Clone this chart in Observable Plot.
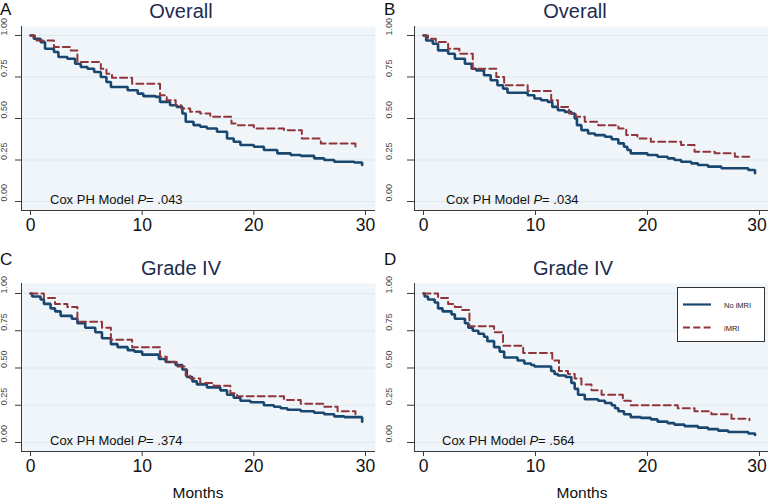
<!DOCTYPE html>
<html>
<head>
<meta charset="utf-8">
<script src="https://cdn.jsdelivr.net/npm/d3@7"></script>
<script src="https://cdn.jsdelivr.net/npm/@observablehq/plot@0.6"></script>
<style>
  html, body { margin: 0; padding: 0; background: #fff; }
  #wrap { position: relative; width: 768px; height: 500px; overflow: hidden; font-family: "Liberation Sans", Arial, Helvetica, sans-serif; }
  .panel { position: absolute; }
  #overlay { position: absolute; left: 0; top: 0; pointer-events: none; }
</style>
</head>
<body>
<div id="wrap"></div>
<script>
// ---------- chart text ----------
const panelLetters = ["A", "B", "C", "D"];
const panelTitles = ["Overall", "Overall", "Grade IV", "Grade IV"];
const coxP = [".043", ".034", ".374", ".564"];
const seriesNames = ["No iMRI", "iMRI"];
const xLabel = "Months";
const xTicks = [0, 10, 20, 30];
const yTicks = [0, 0.25, 0.5, 0.75, 1];

// ---------- Panel A: Overall ----------
const aNoT = [0, 0.3, 0.9, 1.3, 2.1, 2.5, 3.3, 4.0, 4.5, 5.1, 5.7, 6.3, 6.8, 7.2, 8.7, 9.6, 10.1, 11.2, 11.6, 12.5, 13.1, 13.6, 13.9, 14.6, 15.2, 15.8, 16.7, 17.6, 18.2, 18.8, 20.0, 20.9, 22.1, 23.3, 24.2, 25.4, 26.3, 27.2, 29.0, 29.7];
const aNoS = [1.0, 0.98, 0.96, 0.92, 0.90, 0.87, 0.86, 0.83, 0.81, 0.80, 0.78, 0.75, 0.72, 0.69, 0.67, 0.65, 0.635, 0.63, 0.60, 0.58, 0.57, 0.53, 0.48, 0.46, 0.45, 0.44, 0.42, 0.38, 0.36, 0.34, 0.33, 0.31, 0.29, 0.28, 0.275, 0.26, 0.25, 0.24, 0.235, 0.22];
const aYesT = [0, 0.4, 2.1, 3.6, 4.2, 6.3, 6.8, 7.3, 9.1, 11.6, 12.2, 13.0, 13.5, 14.3, 15.2, 16.1, 18.0, 18.5, 20.0, 22.7, 24.3, 26.0, 29.1];
const aYesS = [1.0, 0.97, 0.93, 0.91, 0.84, 0.80, 0.77, 0.745, 0.71, 0.64, 0.61, 0.58, 0.56, 0.54, 0.53, 0.51, 0.47, 0.46, 0.44, 0.43, 0.38, 0.35, 0.33];

// ---------- Panel B: Overall ----------
const bNoT = [0, 0.24, 0.83, 1.3, 2.2, 2.8, 3.7, 4.3, 4.7, 5.4, 6.0, 6.6, 7.1, 7.5, 9.3, 9.9, 10.5, 11.1, 11.5, 12.0, 12.6, 13.2, 13.5, 13.7, 14.1, 14.7, 15.3, 16.2, 16.8, 17.4, 17.9, 18.2, 18.5, 20.0, 20.9, 21.8, 22.4, 23.0, 23.9, 24.5, 25.4, 26.6, 29.0, 29.6];
const bNoS = [1.0, 0.97, 0.95, 0.91, 0.89, 0.86, 0.83, 0.80, 0.79, 0.76, 0.73, 0.70, 0.68, 0.655, 0.64, 0.62, 0.61, 0.60, 0.57, 0.55, 0.54, 0.53, 0.50, 0.46, 0.43, 0.41, 0.40, 0.39, 0.375, 0.35, 0.33, 0.31, 0.29, 0.28, 0.27, 0.26, 0.25, 0.24, 0.23, 0.22, 0.21, 0.20, 0.19, 0.17];
const bYesT = [0, 0.4, 1.1, 2.2, 3.2, 4.4, 6.5, 7.2, 9.3, 11.4, 12.0, 13.0, 13.6, 14.4, 15.6, 17.4, 18.1, 19.1, 20.3, 23.0, 24.2, 26.0, 27.8, 29.1];
const bYesS = [1.0, 0.98, 0.96, 0.92, 0.89, 0.80, 0.75, 0.70, 0.665, 0.61, 0.57, 0.53, 0.51, 0.48, 0.46, 0.44, 0.40, 0.38, 0.36, 0.34, 0.30, 0.29, 0.27, 0.25];

// ---------- Panel C: Grade IV ----------
const cNoT = [0, 0.15, 0.9, 1.2, 1.8, 2.2, 2.7, 3.7, 4.2, 4.9, 5.8, 6.4, 7.2, 7.8, 8.7, 9.3, 10.0, 11.5, 12.1, 13.0, 13.6, 14.0, 14.5, 14.9, 15.8, 17.0, 17.6, 18.2, 18.8, 19.7, 20.9, 21.8, 22.4, 23.0, 24.2, 25.4, 26.3, 27.2, 28.1, 29.7];
const cNoS = [1.0, 0.98, 0.96, 0.93, 0.90, 0.88, 0.85, 0.83, 0.80, 0.77, 0.74, 0.70, 0.66, 0.64, 0.62, 0.61, 0.59, 0.56, 0.54, 0.52, 0.49, 0.44, 0.41, 0.39, 0.37, 0.35, 0.32, 0.30, 0.28, 0.27, 0.25, 0.24, 0.23, 0.22, 0.21, 0.20, 0.19, 0.175, 0.17, 0.14];
const cYesT = [0, 1.2, 2.2, 3.3, 4.2, 6.4, 7.2, 9.1, 11.6, 12.2, 13.1, 13.9, 14.3, 15.2, 16.4, 17.9, 18.5, 22.7, 24.2, 26.3, 27.5, 29.1];
const cYesS = [1.0, 0.97, 0.93, 0.91, 0.81, 0.77, 0.69, 0.64, 0.575, 0.54, 0.51, 0.45, 0.43, 0.40, 0.38, 0.33, 0.31, 0.285, 0.26, 0.24, 0.21, 0.19];

// ---------- Panel D: Grade IV ----------
const dNoT = [0, 0.1, 0.4, 1.0, 1.3, 1.7, 2.5, 2.8, 3.7, 4.0, 4.4, 4.9, 5.4, 5.7, 6.3, 6.8, 7.2, 8.4, 9.0, 9.6, 9.9, 11.4, 11.7, 12.0, 12.7, 13.2, 13.5, 13.8, 14.4, 15.6, 16.2, 16.8, 17.1, 17.4, 17.9, 18.5, 19.4, 20.3, 20.9, 21.8, 22.4, 23.3, 24.5, 25.4, 26.3, 27.2, 29.0, 29.6];
const dNoS = [1.0, 0.98, 0.96, 0.94, 0.90, 0.88, 0.86, 0.83, 0.80, 0.77, 0.75, 0.73, 0.71, 0.68, 0.64, 0.61, 0.57, 0.55, 0.53, 0.52, 0.51, 0.48, 0.46, 0.45, 0.44, 0.40, 0.36, 0.32, 0.29, 0.28, 0.265, 0.25, 0.23, 0.21, 0.19, 0.17, 0.165, 0.155, 0.14, 0.13, 0.12, 0.11, 0.10, 0.09, 0.08, 0.07, 0.06, 0.05];
const dYesT = [0, 1.3, 2.2, 2.8, 3.4, 4.1, 6.3, 7.1, 8.9, 11.5, 12.1, 12.9, 13.5, 14.1, 15.0, 15.9, 17.8, 18.5, 22.7, 24.2, 25.7, 27.5, 29.1];
const dYesS = [1.0, 0.97, 0.93, 0.91, 0.89, 0.78, 0.74, 0.65, 0.60, 0.55, 0.48, 0.46, 0.43, 0.39, 0.35, 0.32, 0.28, 0.25, 0.23, 0.21, 0.19, 0.16, 0.15];

// ---------- styles ----------
const navy = "#1a476f";
const maroon = "#90353b";
const plotBg = "#eff5f8";
const gridCol = "#e0e9ee";
const axisCol = "#3a3a3a";
const titleCol = "#1c2b50";
const FONT = "Liberation Sans, Arial, Helvetica, sans-serif";

const rows = (t, s) => t.map((d, i) => ({ t: d, s: s[i] }));
const panels = [
  { no: rows(aNoT, aNoS), yes: rows(aYesT, aYesS) },
  { no: rows(bNoT, bNoS), yes: rows(bYesT, bYesS) },
  { no: rows(cNoT, cNoS), yes: rows(cYesT, cYesS) },
  { no: rows(dNoT, dNoS), yes: rows(dYesT, dYesS) }
];

// layout (pixels / domain padding), not data
const layout = [
  { left: 0,   top: 0,   ml: 21, mr: 9, mt: 26, mb: 40, xd: [-0.806, 30.896], yd: [-0.054, 1.054], ylab: -17, tick: 6, edge: false },
  { left: 384, top: 0,   ml: 30, mr: 0, mt: 26, mb: 40, xd: [-0.804, 30.804], yd: [-0.054, 1.054], ylab: -25.5, tick: 7, edge: true },
  { left: 0,   top: 250, ml: 21, mr: 9, mt: 33, mb: 49, xd: [-0.806, 30.896], yd: [-0.0604, 1.067], ylab: -17, tick: 6, edge: false },
  { left: 384, top: 250, ml: 30, mr: 0, mt: 33, mb: 49, xd: [-0.804, 30.804], yd: [-0.0604, 1.067], ylab: -25.5, tick: 7, edge: true }
];

const wrap = document.getElementById("wrap");

panels.forEach((p, i) => {
  const L = layout[i];
  const xAxisOpts = { tickSize: 5, tickPadding: 3, fontSize: 17.5, label: null, stroke: axisCol, fill: "#111" };
  const xAxes = L.edge
    ? [Plot.axisX({ ...xAxisOpts, ticks: xTicks.slice(0, -1) }),
       Plot.axisX({ ...xAxisOpts, ticks: xTicks.slice(-1), tickSize: 0 }),
       Plot.axisX({ ...xAxisOpts, ticks: xTicks.slice(-1), tickFormat: () => "" })]
    : [Plot.axisX({ ...xAxisOpts, ticks: xTicks })];
  if (L.edge) xAxes[1] = Plot.axisX({ ...xAxisOpts, ticks: xTicks.slice(-1), tickSize: 5, dx: -2.5, stroke: "none" });
  const chart = Plot.plot({
    width: 384,
    height: 250,
    marginLeft: L.ml,
    marginRight: L.mr,
    marginTop: L.mt,
    marginBottom: L.mb,
    style: { background: "transparent", fontFamily: FONT, overflow: "visible" },
    x: { domain: L.xd },
    y: { domain: L.yd },
    marks: [
      Plot.frame({ fill: plotBg, stroke: null }),
      Plot.ruleY(yTicks, { stroke: gridCol, strokeWidth: 1 }),
      Plot.line(p.no, { x: "t", y: "s", curve: "step-after", stroke: navy, strokeWidth: 2.6, strokeLinejoin: "miter" }),
      Plot.line(p.yes, { x: "t", y: "s", curve: "step-after", stroke: maroon, strokeWidth: 2, strokeDasharray: "7,4" }),
      Plot.ruleY([L.yd[0]], { stroke: axisCol, strokeWidth: 1 }),
      Plot.ruleX([L.xd[0]], { stroke: axisCol, strokeWidth: 1 }),
      ...xAxes,
      Plot.axisY({ ticks: yTicks, tickSize: L.tick, tickFormat: () => "", label: null, stroke: axisCol }),
      Plot.text(yTicks, { y: d => d, text: d => d3.format(".2f")(d), frameAnchor: "left", dx: L.ylab, rotate: -90, fontSize: 9, fill: "#444" })
    ]
  });
  chart.classList.add("panel");
  chart.style.left = L.left + "px";
  chart.style.top = L.top + "px";
  wrap.appendChild(chart);
});

// ---------- annotations overlay ----------
const ann = [
  { letterX: 0,   letterY: 15,  titleX: 181, titleY: 18,  coxX: 50,  coxY: 204 },
  { letterX: 384, letterY: 15,  titleX: 575, titleY: 18,  coxX: 446, coxY: 204 },
  { letterX: 0,   letterY: 265, titleX: 181, titleY: 275, coxX: 50,  coxY: 445 },
  { letterX: 384, letterY: 265, titleX: 573, titleY: 275, coxX: 442, coxY: 445 }
];
const svg = d3.select(wrap).append("svg")
  .attr("id", "overlay").attr("width", 768).attr("height", 500)
  .attr("font-family", FONT);

ann.forEach((a, i) => {
  svg.append("text").attr("x", a.letterX).attr("y", a.letterY)
    .attr("font-size", 17).attr("fill", "#111").text(panelLetters[i]);
  svg.append("text").attr("x", a.titleX).attr("y", a.titleY)
    .attr("font-size", 20).attr("fill", titleCol).attr("text-anchor", "middle").text(panelTitles[i]);
  const t = svg.append("text").attr("x", a.coxX).attr("y", a.coxY)
    .attr("font-size", 13).attr("fill", "#111");
  t.append("tspan").text("Cox PH Model ");
  t.append("tspan").attr("font-style", "italic").text("P");
  t.append("tspan").text("= " + coxP[i]);
});

// x axis titles (bottom row)
[198, 582].forEach(cx => {
  svg.append("text").attr("x", cx).attr("y", 498).attr("font-size", 15.5)
    .attr("fill", "#111").attr("text-anchor", "middle").text(xLabel);
});

// legend (panel D)
const lg = svg.append("g");
lg.append("rect").attr("x", 677.5).attr("y", 287.5).attr("width", 87).attr("height", 54)
  .attr("fill", "#fff").attr("stroke", "#333").attr("stroke-width", 1);
lg.append("line").attr("x1", 683).attr("x2", 711).attr("y1", 304.5).attr("y2", 304.5)
  .attr("stroke", navy).attr("stroke-width", 2.2);
lg.append("line").attr("x1", 683).attr("x2", 711).attr("y1", 327.5).attr("y2", 327.5)
  .attr("stroke", maroon).attr("stroke-width", 2).attr("stroke-dasharray", "7,3.3");
lg.append("text").attr("x", 724).attr("y", 307.5).attr("font-size", 7.5).attr("fill", "#222").text(seriesNames[0]);
lg.append("text").attr("x", 724).attr("y", 330.5).attr("font-size", 7.5).attr("fill", "#222").text(seriesNames[1]);
</script>
</body>
</html>
